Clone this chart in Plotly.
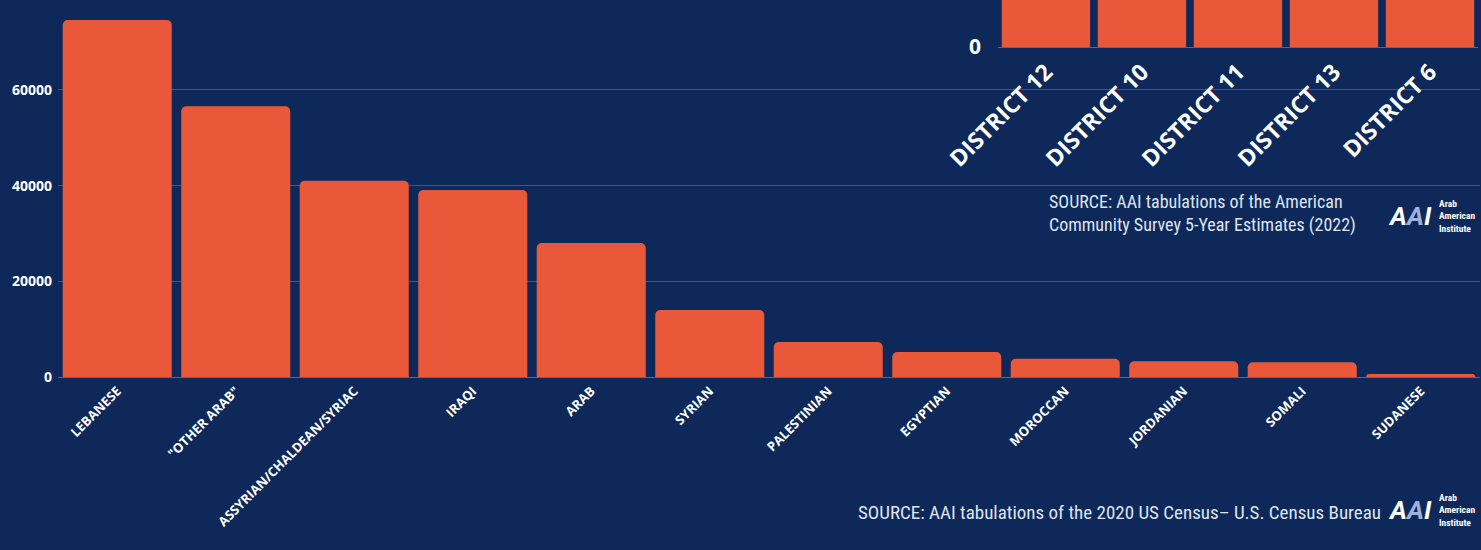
import plotly.graph_objects as go

# Main chart data
categories = ["LEBANESE", "\"OTHER ARAB\"", "ASSYRIAN/CHALDEAN/SYRIAC", "IRAQI", "ARAB", "SYRIAN",
              "PALESTINIAN", "EGYPTIAN", "MOROCCAN", "JORDANIAN", "SOMALI", "SUDANESE"]
values = [74600, 56600, 41000, 39100, 28000, 14000, 7300, 5200, 3800, 3300, 3100, 650]
y_ticks = [0, 20000, 40000, 60000]

# Inset chart (only its lower part is visible)
districts = ["DISTRICT 12", "DISTRICT 10", "DISTRICT 11", "DISTRICT 13", "DISTRICT 6"]
district_values = [45000, 40000, 36000, 30000, 26000]

BG = "#0E2959"
BAR = "#EA583A"
FONT = "Open Sans"
COND = "Roboto Condensed, Liberation Sans Narrow, Roboto"

fig = go.Figure()
fig.add_trace(go.Bar(x=categories, y=values, marker_color=BAR, marker_line_width=0,
                     xaxis="x", yaxis="y", showlegend=False))
fig.add_trace(go.Bar(x=districts, y=district_values, marker_color=BAR, marker_line_width=0,
                     xaxis="x2", yaxis="y2", showlegend=False))

logo = ("<b><i><span style='color:#ffffff'>A</span><span style='color:#9db3dd'>A</span>"
        "<span style='color:#ffffff'>I</span></i></b>")
logo_txt = "<b>Arab<br>American<br>Institute</b>"

W0, H0 = 58, 377  # plot-area left and height in pixels


def px(x):
    return (x - W0) / 1422


def py(y):
    return (H0 - y) / H0


fig.update_layout(
    width=1481, height=550,
    margin=dict(l=58, r=1, t=0, b=173),
    paper_bgcolor=BG, plot_bgcolor=BG,
    bargap=0.08, barcornerradius=5,
    font=dict(family=FONT, color="white"),
    xaxis=dict(domain=[0, 1], tickangle=-45, showgrid=False, showline=False, ticks="",
               tickfont=dict(family=FONT, size=13, color="white", weight="bold"),
               ticklabelstandoff=3),
    yaxis=dict(range=[0, 78800], tickvals=y_ticks, tickformat="d", showgrid=True,
               gridcolor="rgba(255,255,255,0.22)", gridwidth=1,
               zeroline=True, zerolinecolor="rgba(150,170,210,0.5)", zerolinewidth=1,
               tickfont=dict(family=FONT, size=14, color="white", weight="bold"), ticks="",
               ticklabelstandoff=5),
    xaxis2=dict(domain=[0.661, 0.9986], anchor="y2", tickangle=-45, showgrid=False, ticks="",
                tickfont=dict(family=FONT, size=23, color="white", weight="bold"),
                ticklabelstandoff=6),
    yaxis2=dict(domain=[0.875, 1], anchor="x2", range=[0, 1000], tickvals=[0], showgrid=False,
                zeroline=True, zerolinecolor="rgba(150,170,210,0.5)", zerolinewidth=1, ticks="",
                tickfont=dict(family=FONT, size=21, color="white", weight="bold"),
                ticklabelstandoff=16),
    annotations=[
        dict(text="SOURCE: AAI tabulations of the American<br>Community Survey 5-Year Estimates (2022)",
             xref="paper", yref="paper", x=px(1047), y=py(189),
             xanchor="left", yanchor="top", showarrow=False, align="left",
             font=dict(family=COND, size=18, color="#dfe4ee")),
        dict(text=logo, xref="paper", yref="paper", x=px(1434), y=py(216),
             xanchor="right", yanchor="middle", showarrow=False,
             font=dict(family="Roboto", size=26)),
        dict(text=logo_txt, xref="paper", yref="paper", x=px(1437), y=py(216),
             xanchor="left", yanchor="middle", showarrow=False, align="left",
             font=dict(family=COND, size=9.5, color="white")),
        dict(text="SOURCE: AAI tabulations of the 2020 US Census– U.S. Census Bureau",
             xref="paper", yref="paper", x=px(1383), y=py(512),
             xanchor="right", yanchor="middle", showarrow=False,
             font=dict(family=COND, size=19, color="#dfe4ee")),
        dict(text=logo, xref="paper", yref="paper", x=px(1434), y=py(510),
             xanchor="right", yanchor="middle", showarrow=False,
             font=dict(family="Roboto", size=26)),
        dict(text=logo_txt, xref="paper", yref="paper", x=px(1437), y=py(510),
             xanchor="left", yanchor="middle", showarrow=False, align="left",
             font=dict(family=COND, size=9.5, color="white")),
    ],
)

fig.write_html("out.html", config={"displayModeBar": False},
               post_script="document.body.style.margin='0';document.body.style.background='#0E2959';")
